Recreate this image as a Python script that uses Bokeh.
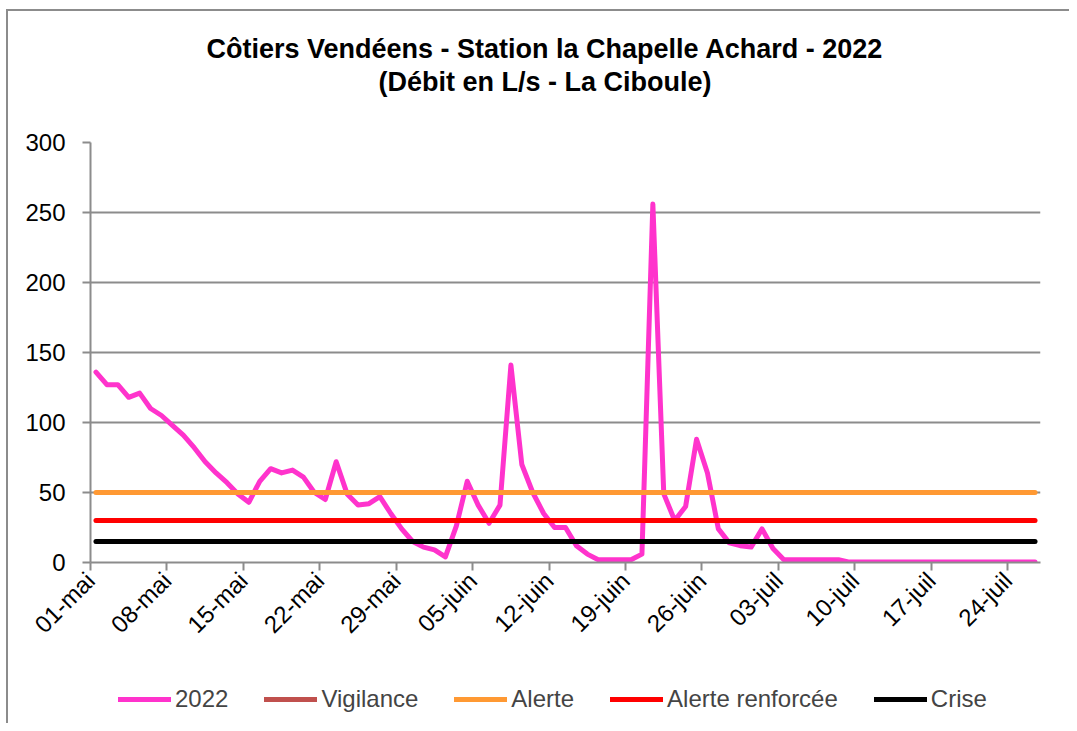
import math
import pandas as pd
from bokeh.plotting import figure
from bokeh.layouts import column
from bokeh.models import FixedTicker, Legend, LegendItem, ColumnDataSource, Range1d, Title
from bokeh.embed import file_html
from bokeh.resources import INLINE

# ---- data ----
start_date = "2022-05-01"
n_days = 87
dates = pd.date_range(start_date, periods=n_days, freq="D")

debit_2022 = [
    136, 127, 127, 118, 121, 110, 105, 98, 91, 82,
    72, 64, 57, 49, 43, 58, 67, 64, 66, 61,
    50, 45, 72, 49, 41, 42, 47, 35, 24, 15,
    11, 9, 4, 26, 58, 41, 28, 41, 141, 70,
    50, 35, 25, 25, 12, 6, 2, 2, 2, 2,
    6, 256, 49, 30, 40, 88, 64, 24, 14, 12,
    11, 24, 10, 2, 2, 2, 2, 2, 2, 0.3,
    0.3, 0.3, 0.3, 0.3, 0.3, 0.3, 0.3, 0.3, 0.3, 0.3,
    0.3, 0.3, 0.3, 0.3, 0.3, 0.3, 0.3,
]
vigilance = [float("nan")] * n_days
alerte = [50] * n_days
alerte_renforcee = [30] * n_days
crise = [15] * n_days

series_names = ["2022", "Vigilance", "Alerte", "Alerte renforcée", "Crise"]
series_cols = ["d2022", "vig", "al", "alr", "cr"]
series_colors = ["#FF33CC", "#C0504D", "#FF9933", "#FF0000", "#000000"]

title_lines = ["Côtiers Vendéens - Station la Chapelle Achard - 2022",
               "(Débit en L/s - La Ciboule)"]
tick_labels = ["01-mai", "08-mai", "15-mai", "22-mai", "29-mai", "05-juin",
               "12-juin", "19-juin", "26-juin", "03-juil", "10-juil", "17-juil", "24-juil"]
y_ticks = [0, 50, 100, 150, 200, 250, 300]

# day index -> x (points sit in the middle of each day)
day_idx = [(d - dates[0]).days for d in dates]
x = [d + 0.5 for d in day_idx]
tick_pos = [day_idx[i] for i in range(0, n_days, 7)][: len(tick_labels)]

src = ColumnDataSource(dict(x=x, d2022=debit_2022, vig=vigilance, al=alerte,
                            alr=alerte_renforcee, cr=crise))

FONT = "Liberation Sans"
GRID = "#8c8c8c"

p = figure(width=1061, height=639, output_backend="svg", toolbar_location=None,
           x_range=Range1d(0, n_days), y_range=Range1d(0, 300),
           min_border_left=82, min_border_right=29, min_border_top=131,
           min_border_bottom=87, title=None)

# title lines (stacked outward from the frame): spacer, line 2, line 1
spacer = Title(text=" ", text_font_size="1px", standoff=42)
t2 = Title(text=title_lines[1], align="left", offset=288, text_font=FONT,
           text_font_size="27px", text_font_style="bold", text_color="black", standoff=2)
t1 = Title(text=title_lines[0], align="left", offset=116, text_font=FONT,
           text_font_size="27px", text_font_style="bold", text_color="black", standoff=0)
p.add_layout(spacer, "above")
p.add_layout(t2, "above")
p.add_layout(t1, "above")

p.outline_line_color = None
p.xgrid.visible = False
p.ygrid.grid_line_color = GRID
p.ygrid.grid_line_width = 2
p.ygrid.ticker = FixedTicker(ticks=y_ticks)

p.yaxis.ticker = FixedTicker(ticks=y_ticks)
p.xaxis.ticker = FixedTicker(ticks=tick_pos)
p.xaxis.major_label_overrides = {t: lab for t, lab in zip(tick_pos, tick_labels)}
p.xaxis.major_label_orientation = math.pi / 4
for ax in (p.xaxis, p.yaxis):
    ax.axis_line_color = GRID
    ax.axis_line_width = 2
    ax.major_tick_line_color = GRID
    ax.major_tick_line_width = 2
    ax.major_tick_out = 8
    ax.major_tick_in = 0
    ax.minor_tick_line_color = None
    ax.major_label_text_font = FONT
    ax.major_label_text_font_size = "24px"
    ax.major_label_text_color = "black"
p.yaxis.major_label_standoff = 17
p.xaxis.major_label_standoff = 6

for col, colr in zip(series_cols, series_colors):
    p.line("x", col, source=src, line_color=colr, line_width=5,
           line_cap="round", line_join="round")

# legend strip below the chart (its own lines sit outside its view range)
pl = figure(width=1061, height=73, output_backend="svg", toolbar_location=None,
            x_range=Range1d(0, n_days), y_range=Range1d(1000, 1001), min_border=0,
            title=None)
pl.axis.visible = False
pl.grid.visible = False
pl.outline_line_color = None
items = []
for name, col, colr in zip(series_names, series_cols, series_colors):
    r = pl.line("x", col, source=src, line_color=colr, line_width=5, line_cap="round")
    items.append(LegendItem(label=name, renderers=[r]))
legend = Legend(items=items, orientation="horizontal", location=(28, 10),
                glyph_width=53, glyph_height=20, label_standoff=4, spacing=36,
                padding=0, margin=0, border_line_color=None,
                background_fill_alpha=0,
                label_text_font=FONT, label_text_font_size="24px")
pl.add_layout(legend, "center")

layout = column(p, pl, spacing=0,
                styles={"margin-left": "6px", "margin-top": "9px",
                        "border-left": "2px solid #8c8c8c",
                        "border-top": "2px solid #8c8c8c"})

open("out.html", "w").write(file_html(layout, INLINE))
